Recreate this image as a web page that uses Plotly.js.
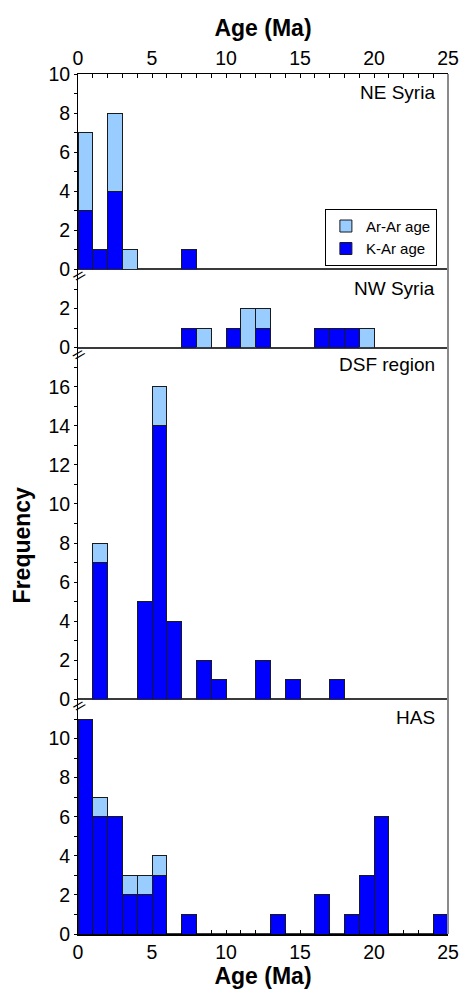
<!DOCTYPE html>
<html>
<head>
<meta charset="utf-8">
<script src="https://cdn.plot.ly/plotly-3.0.1.min.js"></script>
<style>html,body{margin:0;padding:0;background:#fff;}#chart{width:461px;height:994px;}</style>
</head>
<body>
<div id="chart"></div>
<script>
// Bin centres (1 Ma bins, 0-25 Ma)
var binCenters = [0.5,1.5,2.5,3.5,4.5,5.5,6.5,7.5,8.5,9.5,10.5,11.5,12.5,13.5,14.5,15.5,16.5,17.5,18.5,19.5,20.5,21.5,22.5,23.5,24.5];

// Counts per bin, K-Ar and Ar-Ar, for each region
var neSyriaKAr  = [3,1,4,0,0,0,0,1,0,0,0,0,0,0,0,0,0,0,0,0,0,0,0,0,0];
var neSyriaArAr = [4,0,4,1,0,0,0,0,0,0,0,0,0,0,0,0,0,0,0,0,0,0,0,0,0];
var nwSyriaKAr  = [0,0,0,0,0,0,0,1,0,0,1,0,1,0,0,0,1,1,1,0,0,0,0,0,0];
var nwSyriaArAr = [0,0,0,0,0,0,0,0,1,0,0,2,1,0,0,0,0,0,0,1,0,0,0,0,0];
var dsfKAr      = [0,7,0,0,5,14,4,0,2,1,0,0,2,0,1,0,0,1,0,0,0,0,0,0,0];
var dsfArAr     = [0,1,0,0,0,2,0,0,0,0,0,0,0,0,0,0,0,0,0,0,0,0,0,0,0];
var hasKAr      = [11,6,6,2,2,3,0,1,0,0,0,0,0,1,0,0,2,0,1,3,6,0,0,0,1];
var hasArAr     = [0,1,0,1,1,1,0,0,0,0,0,0,0,0,0,0,0,0,0,0,0,0,0,0,0];

var panelLabels = ["NE Syria", "NW Syria", "DSF region", "HAS"];
var seriesNames = ["K-Ar age", "Ar-Ar age"];

var colKAr = "#0000FF", colArAr = "#99CCFF";
var FONT = "Liberation Sans, Arial, sans-serif";

function nz(vals){
  var xs=[], ys=[];
  for (var i=0;i<vals.length;i++){ if(vals[i]>0){ xs.push(binCenters[i]); ys.push(vals[i]); } }
  return {x:xs, y:ys};
}
function barTrace(vals, name, color, xa, ya, showleg){
  var d = nz(vals);
  return {type:"bar", x:d.x, y:d.y, width:1, name:name, xaxis:xa, yaxis:ya,
    marker:{color:color, line:{color:"#1a1a1a", width:1}}, showlegend:showleg,
    legendgroup:name, hoverinfo:"x+y+name"};
}

var traces = [
  barTrace(hasKAr, seriesNames[0], colKAr, "x", "y", false),
  barTrace(hasArAr, seriesNames[1], colArAr, "x", "y", false),
  barTrace(dsfKAr, seriesNames[0], colKAr, "x2", "y2", false),
  barTrace(dsfArAr, seriesNames[1], colArAr, "x2", "y2", false),
  barTrace(nwSyriaKAr, seriesNames[0], colKAr, "x3", "y3", false),
  barTrace(nwSyriaArAr, seriesNames[1], colArAr, "x3", "y3", false),
  barTrace(neSyriaKAr, seriesNames[0], colKAr, "x4", "y4", true),
  barTrace(neSyriaArAr, seriesNames[1], colArAr, "x4", "y4", true)
];

var tickFont = {family:FONT, size:19.5, color:"#000"};

function yax(domain, range, tickvals){
  return {domain:domain, range:range, tickvals:tickvals, ticks:"outside", ticklen:3, tickwidth:1,
    tickcolor:"#000", showline:true, linecolor:"#000", linewidth:1, showgrid:false,
    zeroline:true, zerolinecolor:"#3a3a3a", zerolinewidth:2, tickfont:tickFont,
    minor:{dtick:1, ticks:"outside", ticklen:3, tickcolor:"#000", showgrid:false},
    fixedrange:true};
}
function xhidden(anchor){
  return {anchor:anchor, domain:[0,1], range:[0,25], showticklabels:false, ticks:"", showline:false,
    showgrid:false, zeroline:false, fixedrange:true};
}
function breakMark(yp){
  return {text:"//", xref:"paper", yref:"paper", x:0, y:yp, yshift:-7, xshift:1, xanchor:"center", yanchor:"middle",
    textangle:45, showarrow:false, font:{family:FONT, size:14, color:"#000"}};
}

var H = 44; // total y units
var layout = {
  width:461, height:994,
  margin:{l:78, r:13, t:74, b:60},
  paper_bgcolor:"#fff", plot_bgcolor:"#fff",
  barmode:"stack", bargap:0,
  font:{family:FONT, color:"#000"},
  showlegend:true,
  legend:{x:0.97, xanchor:"right", y:0.777, yanchor:"bottom", bgcolor:"#fff",
    bordercolor:"#000", borderwidth:1, font:{family:FONT, size:15, color:"#000"},
    traceorder:"reversed", tracegroupgap:0, itemwidth:30},
  xaxis:{anchor:"y", domain:[0,1], range:[0,25], dtick:5, tick0:0, ticks:"inside", ticklen:4,
    tickcolor:"#000", showline:true, linecolor:"#000", linewidth:1.5, showgrid:false, zeroline:false,
    tickfont:tickFont, minor:{dtick:1, ticks:"inside", ticklen:4, tickcolor:"#000", showgrid:false},
    title:{text:"<b>Age (Ma)</b>", font:{family:FONT, size:23, color:"#000"}, standoff:6}, fixedrange:true},
  xaxis2:xhidden("y2"),
  xaxis3:xhidden("y3"),
  xaxis4:{anchor:"y4", side:"top", domain:[0,1], range:[0,25], dtick:5, tick0:0, ticks:"inside", ticklen:4,
    tickcolor:"#000", showline:true, linecolor:"#000", linewidth:1, showgrid:false, zeroline:false,
    tickfont:tickFont, minor:{dtick:1, ticks:"inside", ticklen:4, tickcolor:"#000", showgrid:false},
    title:{text:"<b>Age (Ma)</b>", font:{family:FONT, size:23, color:"#000"}, standoff:4}, fixedrange:true},
  yaxis:yax([0, 12/H], [0,12], [0,2,4,6,8,10]),
  yaxis2:yax([12/H, 30/H], [0,18], [0,2,4,6,8,10,12,14,16]),
  yaxis3:yax([30/H, 34/H], [0,4], [0,2]),
  yaxis4:yax([34/H, 1], [0,10], [0,2,4,6,8,10]),
  shapes:[
    {type:"line", xref:"paper", yref:"paper", x0:1, x1:1, y0:0, y1:1, line:{color:"#8a8a8a", width:2}}
  ],
  annotations:[
    {text:"Frequency", textangle:-90, xref:"paper", yref:"paper", x:-0.151, y:0.452, xanchor:"center", yanchor:"middle",
      showarrow:false, font:{family:FONT, size:23, color:"#000", weight:"bold"}},
    {text:panelLabels[0], xref:"paper", yref:"paper", x:0.97, y:0.979, xanchor:"right", yanchor:"middle", showarrow:false, font:{family:FONT, size:19, color:"#000"}},
    {text:panelLabels[1], xref:"paper", yref:"paper", x:0.97, y:0.751, xanchor:"right", yanchor:"middle", showarrow:false, font:{family:FONT, size:19, color:"#000"}},
    {text:panelLabels[2], xref:"paper", yref:"paper", x:0.97, y:0.662, xanchor:"right", yanchor:"middle", showarrow:false, font:{family:FONT, size:19, color:"#000"}},
    {text:panelLabels[3], xref:"paper", yref:"paper", x:0.97, y:0.252, xanchor:"right", yanchor:"middle", showarrow:false, font:{family:FONT, size:19, color:"#000"}},
    breakMark(34/H), breakMark(30/H), breakMark(12/H)
  ]
};

Plotly.newPlot("chart", traces, layout, {displayModeBar:false, staticPlot:true});
</script>
</body>
</html>
